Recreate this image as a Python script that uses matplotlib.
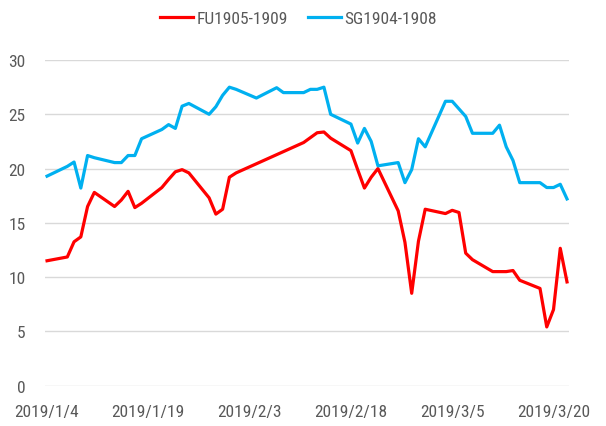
import matplotlib.pyplot as plt
import matplotlib.dates as mdates
from matplotlib import font_manager
import numpy as np

# Shanghai FU spread (no trading over Spring Festival)
fu_dates = ['2019-01-04', '2019-01-07', '2019-01-08', '2019-01-09', '2019-01-10', '2019-01-11',
            '2019-01-14', '2019-01-15', '2019-01-16', '2019-01-17', '2019-01-18',
            '2019-01-21', '2019-01-22', '2019-01-23', '2019-01-24', '2019-01-25',
            '2019-01-28', '2019-01-29', '2019-01-30', '2019-01-31', '2019-02-01',
            '2019-02-11', '2019-02-12', '2019-02-13', '2019-02-14', '2019-02-15',
            '2019-02-18', '2019-02-19', '2019-02-20', '2019-02-21', '2019-02-22',
            '2019-02-25', '2019-02-26', '2019-02-27', '2019-02-28', '2019-03-01',
            '2019-03-04', '2019-03-05', '2019-03-06', '2019-03-07', '2019-03-08',
            '2019-03-11', '2019-03-12', '2019-03-13', '2019-03-14', '2019-03-15',
            '2019-03-18', '2019-03-19', '2019-03-20', '2019-03-21', '2019-03-22']
fu_vals = [11.5, 11.85, 13.25, 13.7, 16.5, 17.8,
           16.5, 17.1, 17.9, 16.4, 16.8,
           18.25, 19.0, 19.7, 19.9, 19.6,
           17.3, 15.8, 16.25, 19.2, 19.6,
           22.4, 22.85, 23.3, 23.37, 22.8,
           21.65, 19.9, 18.2, 19.2, 20.0,
           16.1, 13.2, 8.5, 13.3, 16.25,
           15.85, 16.15, 15.95, 12.2, 11.6,
           10.5, 10.5, 10.5, 10.6, 9.7,
           8.95, 5.4, 7.0, 12.65, 9.55]

# Singapore spread (trades 2/4, 2/7, 2/8)
sg_dates = ['2019-01-04', '2019-01-07', '2019-01-08', '2019-01-09', '2019-01-10', '2019-01-11',
            '2019-01-14', '2019-01-15', '2019-01-16', '2019-01-17', '2019-01-18',
            '2019-01-21', '2019-01-22', '2019-01-23', '2019-01-24', '2019-01-25',
            '2019-01-28', '2019-01-29', '2019-01-30', '2019-01-31', '2019-02-01',
            '2019-02-04', '2019-02-07', '2019-02-08',
            '2019-02-11', '2019-02-12', '2019-02-13', '2019-02-14', '2019-02-15',
            '2019-02-18', '2019-02-19', '2019-02-20', '2019-02-21', '2019-02-22',
            '2019-02-25', '2019-02-26', '2019-02-27', '2019-02-28', '2019-03-01',
            '2019-03-04', '2019-03-05', '2019-03-06', '2019-03-07', '2019-03-08',
            '2019-03-11', '2019-03-12', '2019-03-13', '2019-03-14', '2019-03-15',
            '2019-03-18', '2019-03-19', '2019-03-20', '2019-03-21', '2019-03-22']
sg_vals = [19.3, 20.2, 20.6, 18.2, 21.2, 21.0,
           20.55, 20.55, 21.2, 21.2, 22.75,
           23.6, 24.05, 23.7, 25.75, 26.0,
           25.0, 25.7, 26.75, 27.5, 27.3,
           26.5, 27.45, 27.0,
           27.0, 27.3, 27.3, 27.5, 25.0,
           24.1, 22.35, 23.7, 22.5, 20.25,
           20.55, 18.7, 19.9, 22.75, 22.0,
           26.2, 26.2, 25.5, 24.8, 23.25,
           23.25, 24.0, 22.0, 20.75, 18.7,
           18.7, 18.25, 18.25, 18.55, 17.2]

tick_dates = ['2019-01-04', '2019-01-19', '2019-02-03', '2019-02-18', '2019-03-05', '2019-03-20']
labels = ['FU1905-1909', 'SG1904-1908']

# pick a narrow face if there is one
have = {f.name for f in font_manager.fontManager.ttflist}
for fam in ['Liberation Sans Narrow', 'DejaVu Sans Condensed', 'Roboto Condensed',
            'Open Sans Condensed', 'Roboto', 'DejaVu Sans']:
    if fam in have:
        break
plt.rcParams['font.family'] = [fam, 'DejaVu Sans']
txt = '#595959'

fig = plt.figure(figsize=(6.06, 4.27), dpi=100)
ax = fig.add_axes([0.0743, 0.0948, 0.8647, 0.7622])

# size the text so widths match the original
rend = fig.canvas.get_renderer()
def fit(s, px):
    t = fig.text(0, 0, s, fontsize=10)
    w = t.get_window_extent(rend).width
    t.remove()
    return 10 * px / w
tick_fs = fit('2019/2/18', 72)
leg_fs = fit('FU1905-1909', 91)

fu_x = np.array(fu_dates, dtype='datetime64[D]')
sg_x = np.array(sg_dates, dtype='datetime64[D]')
ax.plot(fu_x, fu_vals, color='#FF0000', lw=2.3, label=labels[0], solid_joinstyle='round')
ax.plot(sg_x, sg_vals, color='#00B0F0', lw=2.3, label=labels[1], solid_joinstyle='round')

t0 = mdates.date2num(np.datetime64('2019-01-04'))
ax.set_xlim(t0 - 0.3, t0 + 77.3)
ax.set_ylim(0, 30)
ax.set_yticks(np.arange(0, 31, 5))

ticks = np.array(tick_dates, dtype='datetime64[D]')
ax.set_xticks(mdates.date2num(ticks))
ax.set_xticklabels([f'{d.year}/{d.month}/{d.day}' for d in ticks.astype(object)])

ax.grid(axis='y', color='#D9D9D9', lw=1)
ax.set_axisbelow(True)
for s in ax.spines.values():
    s.set_visible(False)
ax.tick_params(axis='both', length=0, labelsize=tick_fs, labelcolor=txt)
ax.tick_params(axis='y', pad=14)
ax.tick_params(axis='x', pad=13)

fig.legend(loc='center', bbox_to_anchor=(0.4926, 0.9555), ncol=2, frameon=False,
           fontsize=leg_fs, labelcolor=txt, handlelength=33 / (leg_fs * 100 / 72),
           handletextpad=0.2, columnspacing=20 / (leg_fs * 100 / 72))

fig.savefig('out.png', dpi=100)
